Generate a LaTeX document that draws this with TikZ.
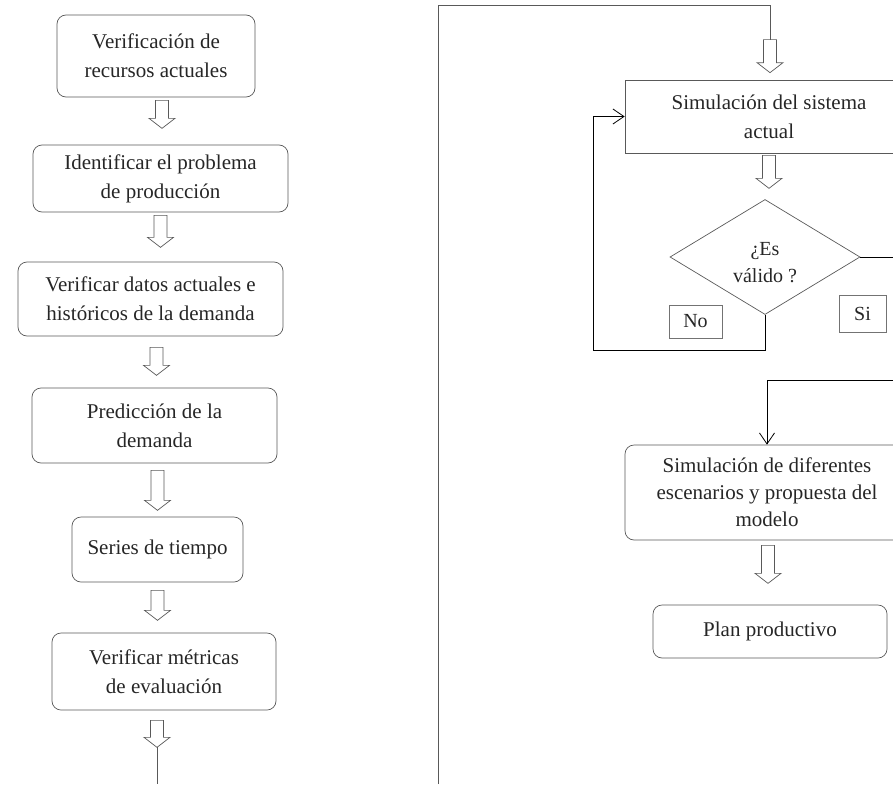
\documentclass[tikz,border=0pt]{standalone}
\usepackage{fontspec}
\setmainfont{Liberation Serif}
\usetikzlibrary{shapes.geometric,arrows.meta}

% hollow block arrow pointing down; argument = total length
\tikzset{
  pics/hollow/.style={code={
    \draw[draw=black!65, line width=0.7pt, fill=white]
      (-6.5,0) -- (-6.5,#1-10) -- (-13,#1-10) -- (0,#1) -- (13,#1-10) -- (6.5,#1-10) -- (6.5,0) -- cycle;
    \coordinate (-top) at (0,0);
    \coordinate (-tip) at (0,#1);
  }}
}

\begin{document}
\begin{tikzpicture}[x=1pt,y=-1pt,
  box/.style={draw=black!65, line width=0.7pt, rounded corners=9pt, align=center,
              inner sep=0pt, font=\fontsize{21}{29}\selectfont, text=black!85},
  sqbox/.style={box, rounded corners=0pt},
  decision/.style={diamond, draw=black!65, line width=0.7pt, inner sep=0pt, align=center,
                   font=\fontsize{20}{27}\selectfont, text=black!85},
  tag/.style={draw=black!55, line width=0.6pt, inner sep=0pt,
              font=\fontsize{20}{24}\selectfont, text=black!85},
  rule/.style={draw=black!65, line width=0.7pt},
  flow/.style={draw=black, line width=0.8pt, -{Straight Barb[length=11pt,width=15pt]}}
]
\clip (0,0) rectangle (893,784);

% left column
\node[box, minimum width=198, minimum height=82] (b1) at (156,56)
  {Verificación de\\recursos actuales};
\node[box, minimum width=255, minimum height=67] (b2) at (160.5,178.5)
  {Identificar el problema\\de producción};
\node[box, minimum width=265, minimum height=74] (b3) at (150.5,299)
  {Verificar datos actuales e\\históricos de la demanda};
\node[box, minimum width=245, minimum height=75] (b4) at (154.5,425.5)
  {Predicción de la\\demanda};
\node[box, minimum width=171, minimum height=65] (b5) at (157.5,549.5)
  {Series de tiempo};
\node[box, minimum width=224, minimum height=77] (b6) at (164,671.5)
  {Verificar métricas\\de evaluación};

\pic (a1) at ([xshift=6,yshift=-3]b1.south) {hollow=28};
\pic (a2) at ([yshift=-3]b2.south) {hollow=32};
\pic (a3) at ([xshift=6,yshift=-11]b3.south) {hollow=28};
\pic (a4) at ([xshift=3,yshift=-7]b4.south) {hollow=40};
\pic (a5) at ([yshift=-8]b5.south) {hollow=30};
\pic (a6) at ([xshift=-7,yshift=-10]b6.south) {hollow=27};

\coordinate (bottom) at (0,784);
\draw[rule] (a6-tip) -- (a6-tip |- bottom);

% right column
\node[sqbox, minimum width=288, minimum height=73] (b7) at (769,116.5)
  {Simulación del sistema\\actual};
\node[decision, minimum width=190, minimum height=115] (dia) at (765,257) {};
\node[font=\fontsize{20}{27}\selectfont, text=black!85, align=center, inner sep=0pt]
  (diatext) at ([yshift=-6]dia.center) {¿Es\\válido ?};
\node[box, minimum width=284, minimum height=95, font=\fontsize{21}{27}\selectfont] (b8) at (767,492.5)
  {Simulación de diferentes\\escenarios y propuesta del\\modelo};
\node[box, minimum width=234, minimum height=53] (b9) at (770,631.5)
  {Plan productivo};

\node[tag, minimum width=53, minimum height=33] (no) at (695.5,321.5) {No};
\node[tag, minimum width=47, minimum height=37] (si) at (862.5,313.5) {Si};

\pic (a7) at ([xshift=1,yshift=40]b7.north) {hollow=33};
\pic (a8) at ([yshift=-2]b7.south) {hollow=33};
\pic (a9) at ([xshift=1,yshift=-5]b8.south) {hollow=38};

% link between the two columns
\coordinate (sepTop) at (438,5);
\coordinate (sepBot) at (438,784);
\draw[rule] (sepBot) -- (sepTop) -| (a7-top);

% decision branches
\coordinate (loop) at (593,350);
\coordinate (yes) at (905,380);
\draw[flow] (dia.south) |- (loop) |- (b7.west);
\draw[flow] (dia.east) -| (yes) -| (b8.north);
\end{tikzpicture}
\end{document}
